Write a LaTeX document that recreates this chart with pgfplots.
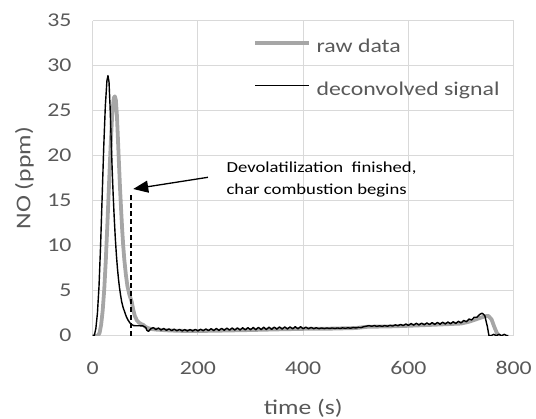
\documentclass[border=0pt]{standalone}
\usepackage{fontspec}
\setmainfont{Carlito}[FakeStretch=1.22]
\usepackage{pgfplots}
\pgfplotsset{compat=1.18}
\usetikzlibrary{arrows.meta}
\definecolor{gridc}{HTML}{D9D9D9}
\definecolor{txt}{HTML}{595959}
\definecolor{rawc}{HTML}{A6A6A6}
\begin{document}
\begin{tikzpicture}
\useasboundingbox (-92.7pt,-83.3pt) rectangle (443.3pt,335.7pt);
\begin{axis}[
  at={(0,0)}, anchor=south west, scale only axis, width=421pt, height=315pt,
  xmin=0, xmax=800, ymin=0, ymax=35,
  xtick={0,200,...,800}, ytick={0,5,...,35},
  grid=major, major grid style={draw=gridc, line width=1pt},
  axis line style={draw=none},
  major tick length=0pt, tick style={draw=none},
  tick label style={font=\fontsize{19.5}{20}\selectfont, text=txt},
  /pgf/number format/assume math mode=true,
  yticklabel style={anchor=east, inner sep=0pt, xshift=-21pt},
  xticklabel style={anchor=base, inner sep=0pt, yshift=-39pt},
  xlabel={time (s)}, ylabel={NO (ppm)},
  label style={font=\fontsize{21}{22}\selectfont, text=txt},
  xlabel style={at={(axis description cs:0.5,-0.25)}, anchor=base},
  ylabel style={at={(axis description cs:-0.162,0.5)}, anchor=center},
  legend style={draw=none, fill=none, at={(axis description cs:0.3815,0.845)}, anchor=west,
    inner sep=0pt, outer sep=0pt, row sep=29.5pt, column sep=6pt,
    nodes={inner sep=0pt, text height=0.75em, text depth=0.25em, font=\fontsize{19.5}{20}\selectfont, text=txt}},
  legend cell align=left,
  legend image code/.code={\draw[#1] (0pt,7pt) -- (53.5pt,7pt);},
]
\addplot[rawc, line width=3.8pt, line join=round] coordinates {
(0,0) (10,0) (13,0.3) (16,1.2) (19,2.8) (22,5.2) (25,8.5) (28,12.5) (31,16.8) (34,21) (37,24.5) (40,26.4) (42,26.6) (44,26.2) (46,24.5) (48,21.8) (50,19) (52,16.3) (54,14) (56,11.8) (58,10) (60,8.5) (63,6.8) (66,5.5) (70,4.5) (74,3.8) (77,2.9) (80,2.2) (84,1.7) (88,1.45) (92,1.3) (96,1.2) (100,1.0) (105,0.85) (110,0.75) (120,0.68) (140,0.6) (160,0.55) (180,0.52) (200,0.52) (250,0.57) (300,0.63) (350,0.7) (400,0.76) (450,0.78) (500,0.85) (515,0.95) (525,1.0) (560,1.02) (600,1.1) (650,1.22) (700,1.35) (715,1.55) (730,1.85) (745,2.15) (752,2.2) (758,1.8) (763,1.0) (768,0.3) (772,0) (775,0)
};
\addlegendentry{raw data}
\addplot[black, line width=1.4pt, line join=round] coordinates {
(0,0) (3,0) (6,0.8) (9,2.5) (12,5.5) (15,10) (18,15.5) (21,21) (24,25.5) (27,28.3) (29,28.9) (31,28.2) (33,25.5) (35,22) (37,18.5) (39,15.5) (41,13) (43,10.8) (45,9) (47,7.5) (49,6.3) (51,5.3) (53,4.5) (55,3.8) (58,3.1) (61,2.6) (64,2.1) (67,1.75) (71,1.4) (74,1.25) (78,1.12) (84,1.1) (90,1.1) (96,1.08) (101,0.9) (103,0.6) (106,0.48) (110,0.75)
(115,0.9) (120,0.68) (125,0.85) (130,0.62) (135,0.8) (140,0.6) (145,0.75) (150,0.57) (155,0.72) (160,0.55) (165,0.7) (170,0.53) (175,0.68) (180,0.52) (185,0.68) (190,0.52) (195,0.7) (200,0.53) (205,0.72) (210,0.55) (215,0.75) (220,0.56) (225,0.78) (230,0.57) (235,0.8) (240,0.58) (245,0.82) (250,0.6) (255,0.85) (260,0.61) (265,0.86) (270,0.62) (275,0.87) (280,0.63) (285,0.88) (290,0.64) (295,0.9) (300,0.65) (305,0.92) (310,0.66) (315,0.93) (320,0.67) (325,0.94) (330,0.68) (335,0.95) (340,0.7) (345,0.96) (350,0.72) (355,0.98) (360,0.73) (365,0.98) (370,0.74) (375,0.98) (380,0.75) (385,1.0) (390,0.76) (395,1.0) (400,0.77) (405,0.95) (410,0.77) (415,0.92) (420,0.78) (425,0.88) (430,0.78) (435,0.86) (440,0.79) (445,0.86) (450,0.8) (455,0.86) (460,0.8) (465,0.86) (470,0.81) (475,0.87) (480,0.82) (485,0.88) (490,0.83) (495,0.9) (500,0.86) (505,0.92) (510,0.9) (515,1.0) (520,1.05) (525,1.12) (530,1.05) (535,1.12) (540,1.04) (545,1.1) (550,1.04) (555,1.12) (560,1.05) (565,1.15) (570,1.07) (575,1.2) (580,1.1) (585,1.25) (590,1.12) (595,1.3) (600,1.15) (605,1.35) (610,1.17) (615,1.38) (620,1.19) (625,1.4) (630,1.21) (635,1.42) (640,1.23) (645,1.45) (650,1.25) (655,1.47) (660,1.27) (665,1.5) (670,1.3) (675,1.52) (680,1.32) (685,1.55) (690,1.36) (695,1.6) (700,1.42) (705,1.7) (710,1.55) (715,1.85) (720,1.75) (725,2.05) (730,2.05) (735,2.35) (740,2.5) (745,2.25) (750,1.0) (753,0) (757,0) (762,0.15) (767,0) (772,0.15) (777,0) (782,0.15) (787,0) (790,0)
};
\addlegendentry{deconvolved signal}
\draw[black, line width=1.3pt, dash pattern=on 5pt off 3pt] (axis cs:73,0) -- (axis cs:73,16);
\draw[black, line width=1.3pt, -{Triangle[length=15pt,width=12pt]}] (axis cs:219,17.6) -- (axis cs:77,16.3);
\node[anchor=base west, inner sep=0pt, font=\fontsize{15.3}{18}\selectfont, text=black] at (axis cs:254,18.1) {Devolatilization\ \ finished,};
\node[anchor=base west, inner sep=0pt, font=\fontsize{15.3}{18}\selectfont, text=black] at (axis cs:254,15.7) {char combustion begins};
\end{axis}
\end{tikzpicture}
\end{document}
